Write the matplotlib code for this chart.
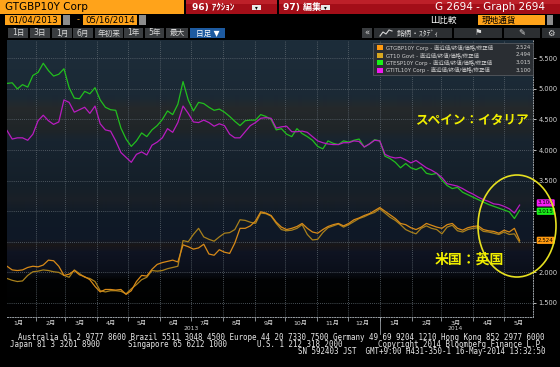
#!/usr/bin/env python3

import numpy as np
import pandas as pd
import matplotlib
matplotlib.use('Agg')
import matplotlib.pyplot as plt
import matplotlib.dates as mdates
from matplotlib.patches import Rectangle, Ellipse
from matplotlib.lines import Line2D
from matplotlib.ticker import NullFormatter
from matplotlib.colors import LinearSegmentedColormap

plt.rcParams['font.family'] = ['DejaVu Sans', 'Noto Sans CJK JP']

# 10y yields, one reading about every 5 days
dates = pd.date_range('2013-01-04', '2014-05-16', periods=100)

gb_10y = [2.10, 2.04, 2.03, 2.04, 2.08, 2.10, 2.09, 2.12, 2.20, 2.19,
          2.10, 1.95, 1.97, 2.03, 1.96, 1.93, 1.88, 1.77, 1.68, 1.72,
          1.72, 1.71, 1.72, 1.64, 1.70, 1.85, 1.95, 1.94, 2.05, 2.13,
          2.16, 2.18, 2.20, 2.17, 2.45, 2.42, 2.38, 2.40, 2.46, 2.30,
          2.28, 2.37, 2.33, 2.31, 2.48, 2.72, 2.72, 2.76, 2.84, 2.99,
          2.97, 2.93, 2.82, 2.74, 2.70, 2.72, 2.75, 2.80, 2.72, 2.66,
          2.64, 2.70, 2.75, 2.78, 2.80, 2.76, 2.80, 2.86, 2.89, 2.93,
          2.96, 3.01, 3.06, 3.00, 2.94, 2.88, 2.80, 2.78, 2.73, 2.70,
          2.74, 2.80, 2.77, 2.74, 2.72, 2.78, 2.80, 2.72, 2.69, 2.73,
          2.75, 2.76, 2.70, 2.68, 2.67, 2.64, 2.69, 2.66, 2.72, 2.524]

us_10y = [1.90, 1.87, 1.85, 1.86, 1.95, 2.01, 2.02, 2.04, 2.03, 2.01,
          2.00, 1.95, 1.92, 2.04, 1.98, 1.92, 1.90, 1.85, 1.70, 1.68,
          1.70, 1.70, 1.69, 1.65, 1.73, 1.80, 1.88, 1.92, 2.03, 2.02,
          2.03, 2.06, 2.08, 2.10, 2.52, 2.50, 2.62, 2.72, 2.58, 2.54,
          2.51, 2.58, 2.64, 2.65, 2.70, 2.86, 2.85, 2.82, 2.80, 2.97,
          2.96, 2.92, 2.80, 2.70, 2.68, 2.69, 2.72, 2.78, 2.62, 2.53,
          2.54, 2.65, 2.73, 2.76, 2.79, 2.74, 2.78, 2.83, 2.88, 2.91,
          2.95, 2.98, 3.04, 2.97, 2.90, 2.85, 2.78, 2.70, 2.66, 2.63,
          2.72, 2.76, 2.72, 2.70, 2.63, 2.74, 2.77, 2.68, 2.66, 2.70,
          2.72, 2.73, 2.67, 2.66, 2.64, 2.62, 2.66, 2.62, 2.63, 2.494]

es_10y = [5.09, 5.10, 5.00, 5.07, 5.03, 5.22, 5.27, 5.42, 5.30, 5.21,
          5.24, 5.33, 5.02, 4.85, 4.84, 4.96, 4.92, 5.02, 4.82, 4.70,
          4.66, 4.65, 4.36, 4.18, 4.06, 4.15, 4.28, 4.22, 4.33, 4.40,
          4.50, 4.64, 4.58, 4.75, 5.12, 4.82, 4.64, 4.78, 4.76, 4.70,
          4.65, 4.67, 4.62, 4.55, 4.47, 4.40, 4.48, 4.49, 4.49, 4.58,
          4.55, 4.50, 4.33, 4.35, 4.26, 4.22, 4.35, 4.27, 4.22, 4.16,
          4.06, 4.02, 4.15, 4.11, 4.09, 4.15, 4.13, 4.16, 4.18, 4.05,
          4.10, 4.17, 4.15, 3.90, 3.86, 3.80, 3.71, 3.78, 3.71, 3.68,
          3.72, 3.62, 3.60, 3.62, 3.51, 3.42, 3.37, 3.39, 3.31, 3.27,
          3.23, 3.19, 3.15, 3.11, 3.08, 3.05, 3.02, 2.99, 2.88, 3.015]

it_10y = [4.32, 4.18, 4.20, 4.20, 4.16, 4.26, 4.48, 4.57, 4.48, 4.42,
          4.46, 4.82, 4.78, 4.62, 4.66, 4.70, 4.60, 4.72, 4.43, 4.33,
          4.31, 4.15, 3.96, 3.88, 3.80, 3.93, 3.97, 3.92, 4.08, 4.13,
          4.20, 4.35, 4.29, 4.45, 4.72, 4.60, 4.46, 4.45, 4.49, 4.45,
          4.39, 4.43, 4.40, 4.26, 4.20, 4.20, 4.30, 4.40, 4.45, 4.52,
          4.53, 4.52, 4.36, 4.38, 4.39, 4.30, 4.30, 4.31, 4.29, 4.22,
          4.15, 4.12, 4.10, 4.09, 4.09, 4.12, 4.12, 4.15, 4.14, 4.05,
          4.10, 4.16, 4.15, 3.93, 3.89, 3.87, 3.88, 3.84, 3.79, 3.83,
          3.77, 3.71, 3.67, 3.62, 3.55, 3.45, 3.43, 3.41, 3.37, 3.32,
          3.28, 3.23, 3.19, 3.16, 3.12, 3.11, 3.08, 3.04, 2.97, 3.10]

legend_names = ['GTGBP10Y Corp - 直近値/終値/価格/修正値',
                'GT10 Govt - 直近値/終値/価格/修正値',
                'GTESP10Y Corp - 直近値/終値/価格/修正値',
                'GTITL10Y Corp - 直近値/終値/価格/修正値']
last_values = [2.524, 2.494, 3.015, 3.100]

month_ticks = pd.to_datetime(['2013-01-15', '2013-02-15', '2013-03-15', '2013-04-15',
                              '2013-05-15', '2013-06-15', '2013-07-15', '2013-08-15',
                              '2013-09-15', '2013-10-15', '2013-11-15', '2013-12-15',
                              '2014-01-15', '2014-02-15', '2014-03-15', '2014-04-15',
                              '2014-05-15'])
month_labels = ['1月', '2月', '3月', '4月', '5月', '6月', '7月', '8月', '9月',
                '10月', '11月', '12月', '1月', '2月', '3月', '4月', '5月']
ytick_values = [1.5, 2.0, 2.5, 3.0, 3.5, 4.0, 4.5, 5.0, 5.5]

line_colors = ['#d88a18', '#a8801c', '#22bf1e', '#b81cc0']
legend_colors = ['#ff9a10', '#d8a820', '#18f018', '#f018f0']
tag_colors = ['#ff9a10', '#d8a820', '#19f019', '#f41cf4']

# figure in pixel units, 560 x 367
W, H = 560, 367
fig = plt.figure(figsize=(W / 100, H / 100), dpi=100, facecolor='black')


def rect(x0, y0, x1, y1, color, ec='none', lw=0.0, zorder=1):
    fig.patches.append(Rectangle((x0 / W, 1 - y1 / H), (x1 - x0) / W, (y1 - y0) / H,
                                 transform=fig.transFigure, facecolor=color,
                                 edgecolor=ec, linewidth=lw, zorder=zorder))


def label(x, y, s, **kw):
    kw.setdefault('va', 'center')
    fig.text(x / W, 1 - y / H, s, **kw)


# --- header bar ---
rect(0, 0, 184, 14, '#ffa31a')
label(5, 7.5, 'GTGBP10Y Corp', color='black', fontsize=7.5)
rect(186, 0, 277, 14, '#a30e18')
rect(279, 0, 560, 14, '#a30e18')
rect(186, 0, 277, 4, '#bd2029')
rect(279, 0, 560, 4, '#bd2029')
label(192, 7.5, '96) ｱｸｼｮﾝ', color='white', fontsize=6.5, weight='bold')
rect(252, 5, 261, 10, '#e8e8e8')
label(256.5, 7.3, '▾', color='black', fontsize=4, ha='center')
label(283, 7.5, '97) 編集', color='white', fontsize=6.5, weight='bold')
rect(321, 5, 330, 10, '#e8e8e8')
label(325.5, 7.3, '▾', color='black', fontsize=4, ha='center')
label(545, 7.5, 'G 2694 - Graph 2694', color='white', fontsize=7.5, ha='right')

# date range row
rect(5, 15, 61, 25, '#ffa31a')
label(33, 20, '01/04/2013', color='black', fontsize=6.2, ha='center')
rect(63, 15, 70, 25, '#8c8c8c')
label(78, 20, '-', color='#ffa31a', fontsize=6, ha='center')
rect(83, 15, 137, 25, '#ffa31a')
label(110, 20, '05/16/2014', color='black', fontsize=6.2, ha='center')
rect(139, 15, 146, 25, '#8c8c8c')
label(430, 20, 'Ш比較', color='white', fontsize=6.2)
rect(478, 15, 545, 25, '#ffa31a')
label(482, 20, '現地通貨', color='black', fontsize=6.2)
rect(547, 15, 553, 25, '#8c8c8c')

# period buttons
buttons = [(8, 28, '1日'), (30, 50, '3日'), (52, 72, '1月'), (73, 93, '6月'),
           (95, 123, '年初来'), (124, 143, '1年'), (145, 164, '5年'), (166, 188, '最大')]
for x0, x1, s in buttons:
    rect(x0, 28, x1, 38, '#3a3d40')
    label((x0 + x1) / 2, 33, s, color='#d8d8d8', fontsize=5.5, ha='center')
rect(190, 28, 225, 38, '#1d5aa0')
label(207.5, 33, '日足 ▼', color='white', fontsize=5.5, ha='center')

# right toolbar
rect(362, 28, 372, 38, '#3a3d40')
label(367, 33, '«', color='#d8d8d8', fontsize=6, ha='center')
rect(374, 28, 452, 38, '#2c2f32')
fig.lines.append(Line2D(np.array([380, 383, 386, 389, 392]) / W,
                        1 - np.array([36, 32, 34, 30, 31]) / H,
                        transform=fig.transFigure, color='#d8d8d8', lw=0.8))
label(397, 33, '銘柄・ｽﾀﾃﾞｨ', color='#d8d8d8', fontsize=5.5)
rect(454, 28, 502, 38, '#2c2f32')
label(478, 33, '⚑', color='#d8d8d8', fontsize=6, ha='center')
rect(504, 28, 540, 38, '#2c2f32')
label(522, 33, '✎', color='#d8d8d8', fontsize=6, ha='center')
rect(542, 28, 560, 38, '#2c2f32')
label(551, 33, '⚙', color='#d8d8d8', fontsize=6, ha='center')

# --- chart ---
ax = fig.add_axes([7 / W, 1 - 317 / H, (533 - 7) / W, (317 - 40) / H])

# terminal style background bands (pixel rows 40..317)
stops = [(40, '#1d2d3a'), (95, '#1b2935'), (108, '#25292b'), (130, '#1f2528'),
         (140, '#182430'), (185, '#141f29'), (200, '#1a2027'), (215, '#0f1a27'),
         (240, '#101826'), (246, '#1a1718'), (252, '#0f1422'), (272, '#0b0f1a'),
         (280, '#020304'), (317, '#000000')]
bg_cmap = LinearSegmentedColormap.from_list('bg', [((y - 40) / 277, c) for y, c in stops])
ax.imshow(np.linspace(0, 1, 277).reshape(-1, 1), cmap=bg_cmap, aspect='auto',
          extent=[0, 1, 0, 1], transform=ax.transAxes, zorder=0, interpolation='bilinear')

ax.plot(dates, us_10y, color=line_colors[1], lw=0.9, zorder=3)
ax.plot(dates, gb_10y, color=line_colors[0], lw=0.9, zorder=3)
ax.plot(dates, es_10y, color=line_colors[2], lw=0.9, zorder=3)
ax.plot(dates, it_10y, color=line_colors[3], lw=0.9, zorder=3)

ax.set_xlim(pd.Timestamp('2013-01-04'), pd.Timestamp('2014-05-29'))
ax.set_ylim(1.27, 5.80)
ax.set_facecolor('black')

ax.set_yticks(ytick_values)
ax.yaxis.set_major_formatter('{x:.3f}')
ax.yaxis.tick_right()
ax.tick_params(axis='y', labelsize=4.8, colors='#d8d8d8', length=2.5, pad=1.5, width=0.6)

ax.xaxis.set_major_locator(mdates.MonthLocator())
ax.xaxis.set_major_formatter(NullFormatter())
ax.set_xticks(month_ticks, minor=True)
ax.set_xticklabels(month_labels, minor=True)
ax.tick_params(axis='x', which='major', length=3, width=0.6, colors='#9aa0a6')
ax.tick_params(axis='x', which='minor', length=0, labelsize=4.5, labelcolor='#d8d8d8', pad=2.5)

ax.grid(True, which='major', color='#5f6971', linestyle=(0, (1, 1.5)), linewidth=0.6)
for s in ['top', 'left']:
    ax.spines[s].set_visible(False)
for s in ['bottom', 'right']:
    ax.spines[s].set_color('#9aa0a6')
    ax.spines[s].set_linestyle(':')
    ax.spines[s].set_linewidth(0.7)

# year labels and separator
ax.plot([pd.Timestamp('2014-01-01')] * 2, [1.27, 1.0], color='#9aa0a6', lw=0.6, clip_on=False)
label(191, 328.5, '2013', color='#cfcfcf', fontsize=4.3, ha='center')
label(455, 328.5, '2014', color='#cfcfcf', fontsize=4.3, ha='center')

# last value tags on the right axis (the gold one is hidden under orange on screen)
tag_shift = {0: 0.0, 2: -0.7, 3: 1.6}
for i in [3, 2, 0]:
    ax.annotate('{:.3f}'.format(last_values[i]), xy=(1, last_values[i]),
                xycoords=('axes fraction', 'data'), xytext=(3.5, tag_shift[i]),
                textcoords='offset points', fontsize=4.0, color='black', va='center',
                annotation_clip=False, zorder=5,
                bbox=dict(boxstyle='round,pad=0.2', fc=tag_colors[i], ec='none'))

# axis labels that sit under a tag are covered on screen
for tick_val, tick_lab in zip(ytick_values, ax.get_yticklabels()):
    if any(abs(tick_val - last_values[i]) < 0.06 for i in [0, 2, 3]):
        tick_lab.set_visible(False)

# legend box
rect(373, 43, 533, 75, '#2a2e33', ec='#55595e', lw=0.6)
for i in range(4):
    y = 47.5 + 7.5 * i
    rect(377, y - 2.5, 383, y + 2.5, legend_colors[i], zorder=2)
    label(386, y, legend_names[i], color='#d0d0d0', fontsize=3.9)
    label(531, y, '{:.3f}'.format(last_values[i]), color='#d0d0d0', fontsize=3.9, ha='right')

# hand-drawn notes
label(472, 120, 'スペイン：イタリア', color='#f0ee00', fontsize=9.1, weight='bold',
      ha='center', family=['Noto Sans CJK JP'])
label(469, 260, '米国：英国', color='#f0ee00', fontsize=10, weight='bold',
      ha='center', family=['Noto Sans CJK JP'])
fig.patches.append(Ellipse((517 / W, 1 - 226 / H), 78 / W, 102 / H, transform=fig.transFigure,
                           fill=False, edgecolor='#e6e020', linewidth=1.2, zorder=2))

# footer
mono = dict(family='DejaVu Sans Mono', fontsize=5.42, color='#e8e8e8')
label(545, 337, 'Australia 61 2 9777 8600 Brazil 5511 3048 4500 Europe 44 20 7330 7500 '
      'Germany 49 69 9204 1210 Hong Kong 852 2977 6000', ha='right', **mono)
label(10, 344.5, 'Japan 81 3 3201 8900', **mono)
label(128, 344.5, 'Singapore 65 6212 1000', **mono)
label(257, 344.5, 'U.S. 1 212 318 2000', **mono)
label(545, 344.5, 'Copyright 2014 Bloomberg Finance L.P.', ha='right', **mono)
label(545, 352, 'SN 592403 JST  GMT+9:00 H431-350-1 16-May-2014 13:32:50', ha='right', **mono)

fig.savefig('out.png', dpi=100, facecolor='black')
